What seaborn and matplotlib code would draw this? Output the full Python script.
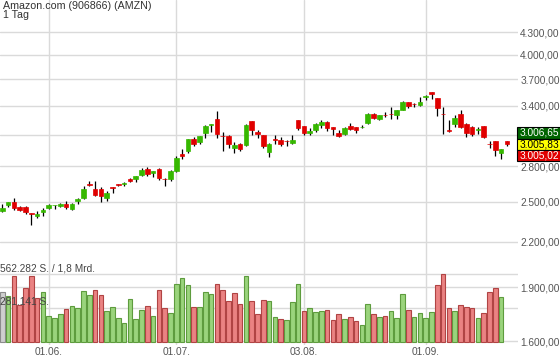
import matplotlib
matplotlib.use("Agg")
import matplotlib.pyplot as plt
from matplotlib.patches import Rectangle
from matplotlib.ticker import NullLocator, FuncFormatter
from matplotlib.colors import to_hex
import numpy as np
import pandas as pd
import seaborn as sns

title = "Amazon.com (906866) (AMZN)"
period = "1 Tag"

# Handelstage 19.05.2020 - 22.09.2020
holidays = ["2020-05-25", "2020-07-03", "2020-09-07"]
dates = pd.bdate_range("2020-05-19", "2020-09-22", freq="C", holidays=holidays)

opens = [2428, 2472, 2497, 2457, 2457, 2411, 2387, 2420, 2449, 2470,
         2465, 2480, 2441, 2507, 2531, 2644, 2603, 2603, 2531, 2617,
         2643, 2648, 2687, 2687, 2724, 2775, 2745, 2775, 2690, 2687,
         2760, 2911, 2939, 3055, 3025, 3117, 3197, 3257, 3085, 3084,
         2970, 3009, 2999, 3236, 3123, 3094, 2933, 3053, 3051, 3036,
         3013, 3246, 3184, 3114, 3144, 3194, 3229, 3171, 3117, 3104,
         3184, 3174, 3175, 3222, 3309, 3262, 3301, 3310, 3301, 3355,
         3446, 3418, 3405, 3501, 3550, 3483, 3315, 3142, 3205, 3309,
         3208, 3174, 3150, 3184, 3008, 3036, 2918, 3036]
highs = [2480, 2498, 2529, 2465, 2465, 2413, 2428, 2451, 2478, 2475,
         2488, 2502, 2488, 2529, 2625, 2670, 2670, 2617, 2586, 2618,
         2650, 2664, 2696, 2713, 2781, 2792, 2757, 2781, 2696, 2766,
         2892, 2958, 3055, 3071, 3084, 3199, 3210, 3341, 3123, 3097,
         3025, 3019, 3205, 3236, 3144, 3094, 3021, 3094, 3071, 3044,
         3091, 3246, 3184, 3161, 3212, 3246, 3239, 3172, 3144, 3174,
         3218, 3174, 3199, 3317, 3320, 3305, 3327, 3387, 3359, 3452,
         3446, 3427, 3497, 3523, 3550, 3483, 3387, 3246, 3298, 3352,
         3218, 3184, 3178, 3184, 3036, 3036, 2958, 3036]
lows = [2418, 2459, 2433, 2428, 2405, 2321, 2372, 2389, 2444, 2444,
        2459, 2441, 2431, 2480, 2521, 2625, 2545, 2499, 2507, 2574,
        2628, 2628, 2662, 2664, 2713, 2716, 2707, 2679, 2628, 2673,
        2748, 2868, 2923, 2989, 3009, 3067, 3123, 3067, 2942, 2970,
        2918, 2942, 2993, 3097, 3067, 2970, 2886, 3006, 2989, 2989,
        3003, 3144, 3100, 3100, 3127, 3161, 3137, 3100, 3071, 3094,
        3144, 3117, 3161, 3210, 3257, 3246, 3281, 3263, 3259, 3349,
        3376, 3387, 3398, 3463, 3474, 3288, 3107, 3127, 3174, 3167,
        3077, 3087, 3107, 3067, 2974, 2892, 2865, 2986]
closes = [2451, 2497, 2451, 2436, 2418, 2407, 2402, 2436, 2472, 2474,
          2480, 2457, 2480, 2521, 2603, 2640, 2555, 2547, 2569, 2614,
          2640, 2651, 2673, 2713, 2766, 2731, 2757, 2698, 2687, 2757,
          2879, 2890, 3055, 3009, 3084, 3184, 3204, 3107, 3083, 3009,
          2996, 2962, 3194, 3147, 3107, 2987, 3006, 3050, 3006, 3033,
          3051, 3167, 3117, 3134, 3205, 3229, 3167, 3154, 3087, 3167,
          3154, 3144, 3178, 3309, 3271, 3298, 3297, 3307, 3352, 3438,
          3398, 3414, 3438, 3505, 3526, 3377, 3312, 3139, 3270, 3178,
          3120, 3107, 3153, 3074, 3005, 2950, 2958, 3006]
# Umsatz in Tsd. Stueck (heutiger Tag noch ohne Umsatz)
volumes = [415, 379, 549, 303, 442, 549, 366, 410, 210, 197,
           232, 270, 298, 278, 423, 388, 431, 388, 254, 289,
           197, 153, 352, 188, 262, 295, 210, 431, 278, 240,
           480, 532, 467, 287, 292, 415, 399, 480, 429, 341,
           407, 314, 549, 341, 232, 344, 341, 205, 186, 177,
           330, 478, 254, 278, 248, 257, 265, 180, 232, 191,
           207, 172, 142, 314, 232, 205, 216, 254, 199, 393,
           262, 205, 240, 199, 248, 467, 562, 278, 254, 303,
           287, 284, 197, 240, 412, 450, 371]
quotes = [3006.65, 3005.83, 3005.02]
price_ticks = [1600, 1900, 2200, 2500, 2800, 3100, 3400, 3700, 4000, 4300]
hidden_tick = 3100  # label lies under the quote boxes
vol_max = 562.282
turnover = "1,8 Mrd."


def de(v, dec=2):
    return f"{v:,.{dec}f}".replace(",", "#").replace(".", ",").replace("#", ".")


n = len(closes)
idx = np.arange(n)

sns.set_theme(style="white")
plt.rcParams["font.family"] = ["Liberation Sans", "DejaVu Sans"]

W, H = 560, 362
fig = plt.figure(figsize=(W / 100, H / 100), dpi=100, facecolor="white")
ax = fig.add_axes([0, 17 / H, 518 / W, 345 / H])
ax.set_yscale("log")
ax.set_ylim(1580, 4770)

# Kerzen
up_c, dn_c = "#36b800", "#e00000"
o = np.array(opens, dtype=float)
c = np.array(closes, dtype=float)
body_col = [up_c if cc >= oo else dn_c for oo, cc in zip(opens, closes)]
ax.vlines(idx, lows, highs, color="black", lw=0.9, zorder=2)
ax.bar(idx, np.abs(c - o), bottom=np.minimum(o, c), width=0.8,
       color=body_col, edgecolor=body_col, lw=0.5, zorder=3)

# Umsatz
vol_dir = ["flat"] + ["up" if closes[i] >= closes[i - 1] else "down"
                      for i in range(1, len(volumes))]
vol_df = pd.DataFrame({"idx": idx[:len(volumes)], "vol": volumes, "dir": vol_dir})
ax2 = ax.twinx()
pal = {"up": "#9ad47c", "down": "#ea8282", "flat": "#cfcfcf"}
edge = {"up": "#5e9c3e", "down": "#b04444", "flat": "#8c8c8c"}
sns.barplot(data=vol_df, x="idx", y="vol", hue="dir", palette=pal,
            native_scale=True, dodge=False, width=0.8, saturation=1,
            errorbar=None, legend=False, ax=ax2, linewidth=0.8)
lookup = {to_hex(v): edge[k] for k, v in pal.items()}
for p in ax2.patches:
    p.set_edgecolor(lookup.get(to_hex(p.get_facecolor()), "none"))
ax2.set_ylim(-27.4, 2838)
ax2.yaxis.set_visible(False)
ax2.set_xlabel("")
ax2.set_ylabel("")
grid_c = "#dadada"
for lv in [vol_max, vol_max / 2]:
    ax2.axhline(lv, color=grid_c, lw=1, zorder=0)
tr = ax2.get_yaxis_transform()
ax2.text(0.0, vol_max + 8, f"{de(vol_max * 1000, 0)} S. / {turnover}", transform=tr,
         va="bottom", ha="left", fontsize=7.3, color="#444444", zorder=10)
ax2.text(0.0, vol_max / 2 + 8, f"{de(vol_max * 500, 0)} S.", transform=tr,
         va="bottom", ha="left", fontsize=7.3, color="#444444", zorder=10)

# Achsen
ax.set_xlim(-0.4, 88.9)
month_start = [i for i in range(1, n) if dates[i].month != dates[i - 1].month]
ax.set_xticks(month_start)
ax.set_xticklabels([dates[i].strftime("%d.%m.") for i in month_start])
ax.set_yticks(price_ticks)
ax.yaxis.set_minor_locator(NullLocator())
ax.yaxis.set_major_formatter(FuncFormatter(lambda v, p: "" if round(v) == hidden_tick else de(v)))
ax.yaxis.tick_right()
ax.tick_params(axis="both", length=0, pad=1.5, labelsize=7.3, labelcolor="#555555")
ax.grid(True, color=grid_c, lw=1)
ax.set_axisbelow(True)
for a in (ax, ax2):
    for s in a.spines.values():
        s.set_visible(False)

fig.text(3 / W, 1 - 1 / H, title, va="top", ha="left", fontsize=7.7, color="#333333")
fig.text(3 / W, 1 - 10.5 / H, period, va="top", ha="left", fontsize=7.7, color="#333333")

# Kursboxen
yc = ax.transData.transform((0, quotes[1]))[1]
box_h = 11.3
box_fc = ["#006400", "#ffff00", "#e00000"]
box_tc = ["white", "black", "white"]
for i, (q, fc, tc) in enumerate(zip(quotes, box_fc, box_tc)):
    cy = yc + (1 - i) * box_h
    fig.add_artist(Rectangle((517 / W, (cy - box_h / 2) / H), 50 / W, box_h / H,
                             facecolor=fc, edgecolor="black", lw=0.8, zorder=5))
    fig.text(520 / W, cy / H, de(q), va="center", ha="left", fontsize=7.3,
             color=tc, zorder=6)

fig.savefig("out.png", dpi=100)
